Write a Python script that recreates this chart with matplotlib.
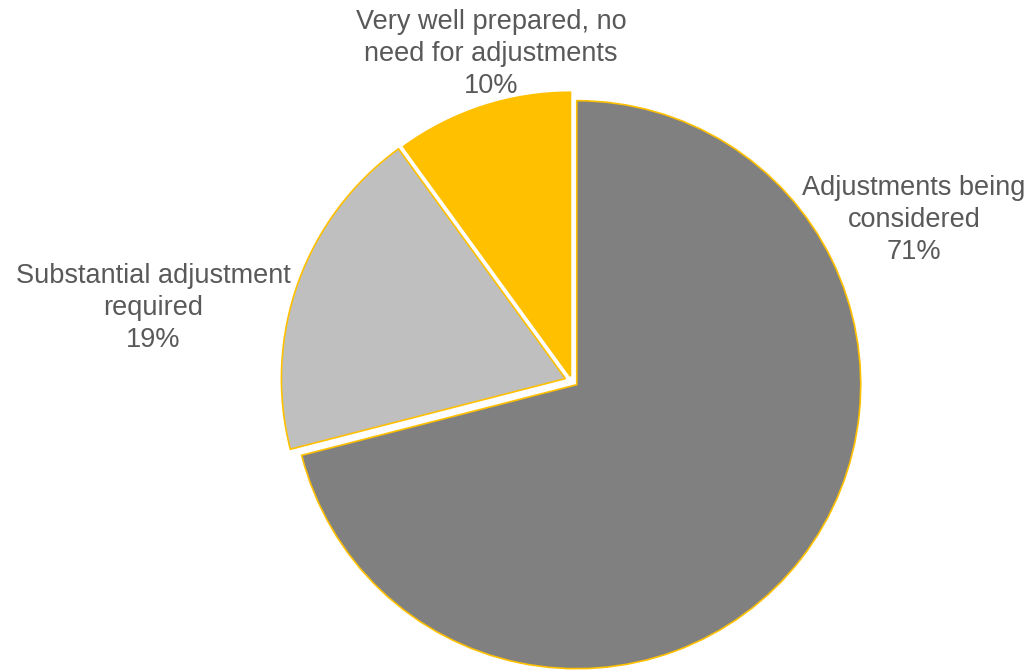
import matplotlib.pyplot as plt

# Readiness survey split, clockwise from 12 o'clock
categories = ["Adjustments being\nconsidered",
              "Substantial adjustment\nrequired",
              "Very well prepared, no\nneed for adjustments"]
shares = [71, 19, 10]
colors = ["#808080", "#BFBFBF", "#FFC000"]

# label anchors (centre of the middle line), in pixel units
label_xy = [(914, 671 - 220), (153, 671 - 308), (491, 671 - 54)]

plt.rcParams['font.family'] = ['Liberation Sans', 'DejaVu Sans']

fig = plt.figure(figsize=(10.30, 6.71), dpi=100)
ax = fig.add_axes([0, 0, 1, 1])

ax.pie(shares, colors=colors, startangle=90, counterclock=False,
       center=(572, 671 - 381), radius=284,
       explode=[6, 7, 5],
       wedgeprops=dict(edgecolor='#FFC000', linewidth=1.2),
       frame=True)
ax.set_xlim(0, 1030)
ax.set_ylim(0, 671)
ax.set_aspect('equal')
ax.axis('off')

for name, val, (x, y) in zip(categories, shares, label_xy):
    ax.text(x, y, f"{name}\n{val}%", ha='center', va='center',
            multialignment='center', fontsize=19.5, color='#595959',
            linespacing=1.28)

fig.savefig("out.png", dpi=100)
